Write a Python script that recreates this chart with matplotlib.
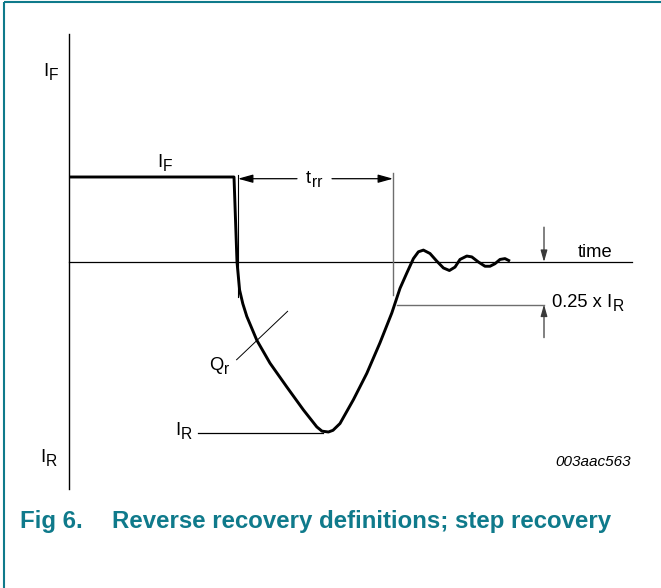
import matplotlib
matplotlib.use("Agg")
import matplotlib.pyplot as plt
import matplotlib.transforms as mtransforms

plt.rcParams['font.family'] = ['Liberation Sans', 'DejaVu Sans']

# ---- waveform data (time in arbitrary units, current normalised to I_F = 1) ----
time = [0.00, 8.25, 8.40, 8.53, 8.69, 8.89, 9.39, 10.05, 10.89, 11.72, 12.39, 12.65,
        12.97, 13.20, 13.55, 14.22, 14.89, 15.55, 16.14, 16.55, 16.89, 17.22, 17.47,
        17.72, 18.05, 18.39, 18.72, 19.02, 19.30, 19.55, 19.89, 20.14, 20.47, 20.80,
        21.05, 21.30, 21.55, 21.80, 22.05]
current = [1.00, 1.00, 0.00, -0.33, -0.49, -0.64, -0.92, -1.19, -1.47, -1.74, -1.94, -1.99,
           -2.00, -1.98, -1.90, -1.62, -1.31, -0.95, -0.60, -0.31, -0.13, 0.04, 0.12,
           0.14, 0.10, 0.01, -0.07, -0.10, -0.06, 0.03, 0.07, 0.06, 0.00, -0.05,
           -0.05, -0.02, 0.03, 0.04, 0.01]

I_F = 1.0
I_R = -2.0
t_rr_start = 8.45
t_rr_end = 16.2
t_axis_end = 28.15
i_axis_top = 2.68
i_axis_bottom = -2.67

TEAL = '#0f7a8b'
GRAY = '#6e6e6e'

fig = plt.figure(figsize=(6.61, 5.88), dpi=100)
ax = fig.add_axes([0, 0, 1, 1])
ax.set_xlim(-69 / 20, (661 - 69) / 20)
ax.set_ylim((262 - 588) / 85, 262 / 85)
ax.axis('off')

# frame (top and left only)
ax.plot([0.0068, 0.0068], [0, 0.996], transform=ax.transAxes, color=TEAL, lw=1.5,
        solid_capstyle='butt', clip_on=False)
ax.plot([0.0068, 1], [0.996, 0.996], transform=ax.transAxes, color=TEAL, lw=1.5,
        solid_capstyle='butt', clip_on=False)

# axes lines
ax.plot([0, 0], [i_axis_bottom, i_axis_top], color='black', lw=1.0)
ax.plot([0, t_axis_end], [0, 0], color='black', lw=0.9)

# waveform
ax.plot(time, current, color='black', lw=2.1, solid_joinstyle='round', solid_capstyle='butt')

# t_rr markers
ax.plot([t_rr_start, t_rr_start], [1.02, -0.41], color='black', lw=0.8)
ax.plot([t_rr_end, t_rr_end], [1.05, -0.39], color=GRAY, lw=1.0)
arr = dict(arrowstyle='-|>,head_length=0.9,head_width=0.25', color='black', lw=0.9,
           shrinkA=0, shrinkB=0)
ax.annotate('', xy=(t_rr_start, 0.98), xytext=(11.4, 0.98), arrowprops=arr)
ax.annotate('', xy=(t_rr_end, 0.98), xytext=(13.15, 0.98), arrowprops=arr)

# 0.25 x I_R marker
q = 0.25 * I_R
ax.plot([16.42, 23.75], [q, q], color=GRAY, lw=1.0)
arr_g = dict(arrowstyle='-|>,head_length=0.7,head_width=0.2', color='#3a3a3a', lw=0.9,
             shrinkA=0, shrinkB=0)
ax.annotate('', xy=(23.75, q), xytext=(23.75, -0.89), arrowprops=arr_g)
ax.annotate('', xy=(23.75, 0.0), xytext=(23.75, 0.41), arrowprops=arr_g)

# I_R level line and Q_r leader
ax.plot([6.45, 12.7], [I_R - 0.01, I_R - 0.01], color='black', lw=0.9)
ax.plot([8.38, 10.93], [-1.15, -0.58], color='black', lw=0.7)

FS = 13.2


def lab(x, y, base, sub, size=FS, **kw):
    t = ax.text(x, y, base, fontsize=size, ha='left', va='baseline', **kw)
    return (t, sub, size)


labels = [
    lab(-1.3, (262 - 76) / 85, 'I', 'F'),
    lab(-1.45, (262 - 462) / 85, 'I', 'R'),
    lab(4.4, (262 - 167) / 85, 'I', 'F'),
    lab(5.3, (262 - 435) / 85, 'I', 'R'),
    lab(7.0, (262 - 370) / 85, 'Q', 'r'),
    lab(11.85, (262 - 183) / 85, 't', 'rr'),
    lab(24.15, (262 - 307) / 85, '0.25 x I', 'R'),
]
ax.text(25.45, (262 - 257) / 85, 'time', fontsize=FS, ha='left', va='baseline')
ax.text((631 - 69) / 20, (262 - 466) / 85, '003aac563', fontsize=11, style='italic',
        ha='right', va='baseline')

fig.canvas.draw()
r = fig.canvas.get_renderer()
for t, sub, size in labels:
    bb = t.get_window_extent(r)
    w_pt = bb.width * 72 / fig.dpi
    tr = mtransforms.offset_copy(ax.transData, fig=fig, x=w_pt + 0.6, y=-2.6, units='points')
    x, y = t.get_position()
    ax.text(x, y, sub, fontsize=size * 0.85, ha='left', va='baseline', transform=tr)

# caption
ax.text(20.5 / 661, 1 - 528 / 588, 'Fig 6.', transform=ax.transAxes, fontsize=17.3,
        fontweight='bold', color=TEAL, ha='left', va='baseline')
ax.text(112.5 / 661, 1 - 528 / 588, 'Reverse recovery definitions; step recovery',
        transform=ax.transAxes, fontsize=17.3, fontweight='bold', color=TEAL,
        ha='left', va='baseline')

fig.savefig('out.png', dpi=100)
